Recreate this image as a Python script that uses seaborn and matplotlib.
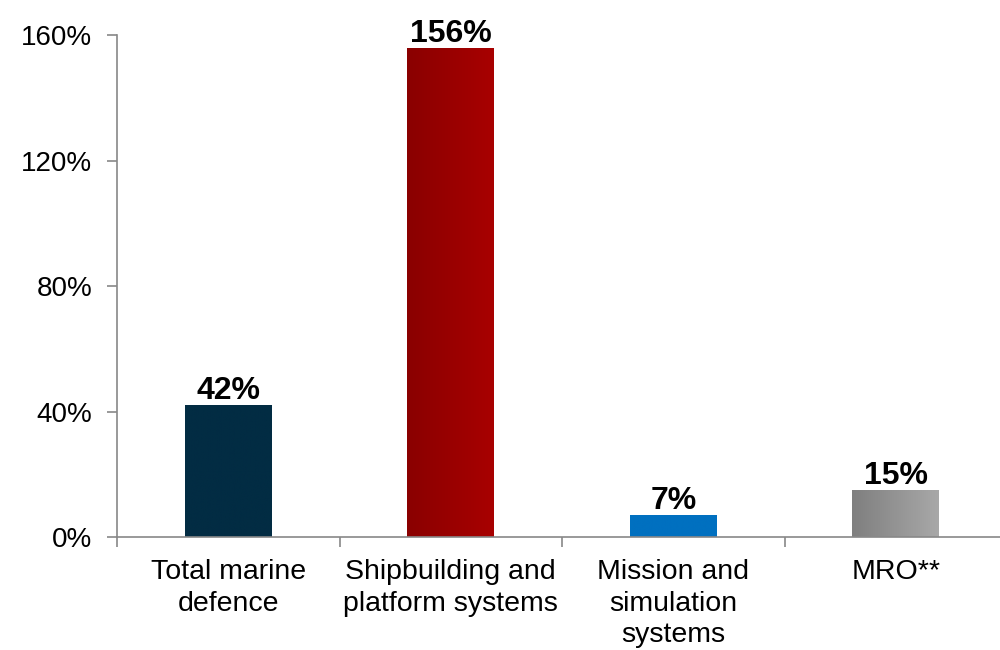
import matplotlib
matplotlib.use("Agg")
import matplotlib.pyplot as plt
import seaborn as sns
import numpy as np
import pandas as pd
from matplotlib.colors import LinearSegmentedColormap

categories = ["Total marine\ndefence", "Shipbuilding and\nplatform systems",
              "Mission and\nsimulation\nsystems", "MRO**"]
values = [42, 156, 7, 15]
value_labels = ["42%", "156%", "7%", "15%"]
ytick_values = [0, 40, 80, 120, 160]
ytick_labels = ["0%", "40%", "80%", "120%", "160%"]

# gradient start/end colours per bar (left -> right)
bar_gradients = [("#022C43", "#022C43"), ("#8A0000", "#A80000"),
                 ("#0070C0", "#0070C0"), ("#7F7F7F", "#A8A8A8")]

sns.set_theme(style="white")
plt.rcParams['font.family'] = ['Liberation Sans', 'DejaVu Sans']

fig = plt.figure(figsize=(10, 6.5), dpi=100)
ax = fig.add_axes([0.117, 0.1738, 0.89, 0.7723])

df = pd.DataFrame({"cat": categories, "val": values})
sns.barplot(data=df, x="cat", y="val", ax=ax, width=0.39,
            palette=[g[0] for g in bar_gradients], hue="cat", legend=False,
            saturation=1)

for patch, (c0, c1) in zip(ax.patches, bar_gradients):
    x0, y0 = patch.get_x(), patch.get_y()
    w, h = patch.get_width(), patch.get_height()
    cmap = LinearSegmentedColormap.from_list("g", [c0, c1])
    grad = np.linspace(0, 1, 256).reshape(1, -1)
    im = ax.imshow(grad, extent=[x0, x0 + w, y0, y0 + h], cmap=cmap,
                   aspect="auto", zorder=patch.get_zorder() + 0.1)
    im.set_clip_path(patch)

for patch, lab in zip(ax.patches, value_labels):
    ax.text(patch.get_x() + patch.get_width() / 2, patch.get_height() - 0.3, lab,
            ha="center", va="bottom", fontsize=23, fontweight="bold", color="black")

ax.set_xlim(-0.5, 3.5)
ax.set_ylim(0, 160)
ax.set_yticks(ytick_values)
ax.set_yticklabels(ytick_labels, fontsize=20, color="#000000")
ax.set_xticks(range(len(categories)))
ax.set_xticklabels(categories, fontsize=20.5, color="#000000", linespacing=1.27)
ax.set_xticks(np.arange(-0.5, 4.0, 1.0), minor=True)
ax.tick_params(axis="x", which="major", length=0, pad=16)
ax.tick_params(axis="x", which="minor", length=7, width=1.2, color="#888888", direction="out", bottom=True)
ax.tick_params(axis="y", which="major", length=7, width=1.2, color="#888888", direction="out", left=True, pad=11)
ax.set_xlabel("")
ax.set_ylabel("")

for s in ["top", "right"]:
    ax.spines[s].set_visible(False)
for s in ["left", "bottom"]:
    ax.spines[s].set_visible(True)
    ax.spines[s].set_color("#888888")
    ax.spines[s].set_linewidth(1.2)

fig.savefig("out.png", dpi=100)
